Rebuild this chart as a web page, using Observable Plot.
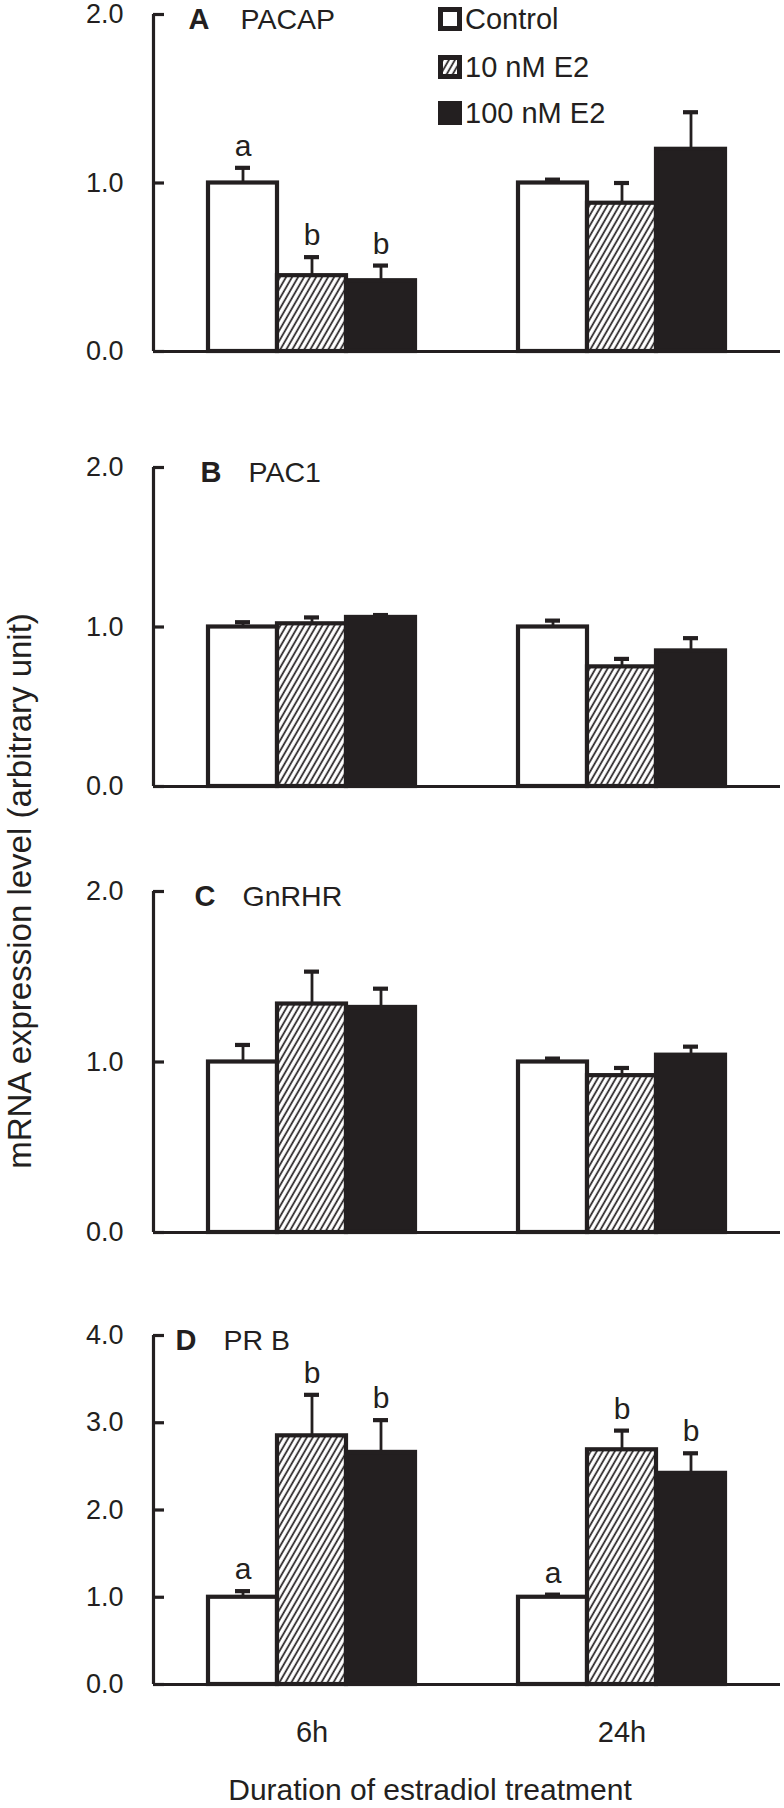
<!DOCTYPE html>
<html><head><meta charset="utf-8">
<script src="https://cdn.jsdelivr.net/npm/d3@7"></script>
<script src="https://cdn.jsdelivr.net/npm/@observablehq/plot@0.6"></script>
<style>
body{margin:0;background:#fff;}
#wrap{position:relative;width:784px;height:1808px;overflow:hidden;font-family:"Liberation Sans",Arial,Helvetica,sans-serif;color:#231f20;background:#fff;}
.layer{position:absolute;left:0;}
.legend-row{position:absolute;left:438px;display:flex;align-items:center;font-size:29px;line-height:30px;}
.legend-row svg{margin-right:3px;display:block;}
</style></head>
<body>
<div id="wrap">
<svg width="0" height="0" style="position:absolute">
  <defs>
    <pattern id="hatch" patternUnits="userSpaceOnUse" width="5.2" height="10" patternTransform="rotate(30)">
      <rect width="5.2" height="10" fill="white"></rect>
      <line x1="1.5" y1="-1" x2="1.5" y2="11" stroke="#231f20" stroke-width="1.7"></line>
    </pattern>
  </defs>
</svg>
</div>
<script>
// ---------- data ----------
const durations = ["6h", "24h"];
const treatments = ["Control", "10 nM E2", "100 nM E2"];
const genes = ["PACAP", "PAC1", "GnRHR", "PR B"];
const panelLetters = ["A", "B", "C", "D"];
// order: 6h Control, 6h 10 nM, 6h 100 nM, 24h Control, 24h 10 nM, 24h 100 nM
const pacapMean = [1.00, 0.45, 0.42, 1.00, 0.88, 1.20];
const pacapErr  = [0.09, 0.11, 0.09, 0.02, 0.12, 0.22];
const pacapSig  = ["a", "b", "b", "", "", ""];
const pac1Mean  = [1.00, 1.02, 1.06, 1.00, 0.75, 0.85];
const pac1Err   = [0.03, 0.04, 0.015, 0.04, 0.05, 0.08];
const pac1Sig   = ["", "", "", "", "", ""];
const gnrhrMean = [1.00, 1.34, 1.32, 1.00, 0.92, 1.04];
const gnrhrErr  = [0.10, 0.19, 0.11, 0.02, 0.045, 0.05];
const gnrhrSig  = ["", "", "", "", "", ""];
const prbMean   = [1.00, 2.85, 2.66, 1.00, 2.69, 2.42];
const prbErr    = [0.07, 0.47, 0.37, 0.03, 0.22, 0.23];
const prbSig    = ["a", "b", "b", "a", "b", "b"];
const yTicksSmall = [0, 1, 2];
const yTicksLarge = [0, 1, 2, 3, 4];
const xTitle = "Duration of estradiol treatment";
const yTitle = "mRNA expression level (arbitrary unit)";

// ---------- styles / layout ----------
const ink = "#231f20";
const treatmentFills = ["white", "url(#hatch)", ink];
const panelData = [
  {mean: pacapMean, err: pacapErr, sig: pacapSig, ticks: yTicksSmall},
  {mean: pac1Mean, err: pac1Err, sig: pac1Sig, ticks: yTicksSmall},
  {mean: gnrhrMean, err: gnrhrErr, sig: gnrhrSig, ticks: yTicksSmall},
  {mean: prbMean, err: prbErr, sig: prbSig, ticks: yTicksLarge}
];
const panelLayout = [
  {top: 0, plotH: 337, mb: 20, letterDx: 35, nameDx: 87},
  {top: 453, plotH: 319, mb: 20, letterDx: 47, nameDx: 95},
  {top: 877, plotH: 341, mb: 20, letterDx: 41, nameDx: 89},
  {top: 1321, plotH: 349, mb: 80, letterDx: 22, nameDx: 70}
];
const ML = 153, MR = 4, MT = 14;
const font = '"Liberation Sans", Arial, Helvetica, sans-serif';

const wrap = document.getElementById("wrap");

genes.forEach((gene, i) => {
  const pd = panelData[i], L = panelLayout[i];
  const rows = [];
  durations.forEach((dur, di) => treatments.forEach((tr, ti) => {
    const k = di * 3 + ti;
    rows.push({duration: dur, treatment: tr, value: pd.mean[k], err: pd.err[k], sig: pd.sig[k]});
  }));
  const ymax = d3.max(pd.ticks);
  const H = MT + L.plotH + L.mb;
  const isLast = i === genes.length - 1;

  const barMarks = [
    Plot.ruleX(rows, {fx: "duration", x: "treatment", y1: "value", y2: d => d.value + d.err,
      stroke: ink, strokeWidth: 2.8}),
    Plot.barY(rows, {fx: "duration", x: "treatment", y: "value", fill: "treatment",
      stroke: ink, strokeWidth: 4.2}),
    Plot.tickY(rows, {fx: "duration", x: "treatment", y: d => d.value + d.err,
      stroke: ink, strokeWidth: 4.2, insetLeft: 27, insetRight: 27}),
    Plot.text(rows.filter(d => d.sig), {fx: "duration", x: "treatment", y: d => d.value + d.err,
      text: "sig", lineAnchor: "bottom", dy: -12, fontSize: 30, fill: ink})
  ];
  if (isLast) {
    barMarks.push(Plot.axisFx({anchor: "bottom", tickSize: 0, tickPadding: 37, fontSize: 29,
      label: null, fill: ink}));
  }
  const bars = Plot.plot({
    width: 784, height: H,
    marginLeft: ML, marginRight: MR, marginTop: MT, marginBottom: L.mb,
    style: {fontFamily: font, color: ink, background: "transparent", overflow: "visible"},
    fx: Object.assign({domain: durations, paddingInner: 0.326, paddingOuter: 0.174, label: null},
      isLast ? {} : {axis: null}),
    x: {domain: treatments, padding: 0, axis: null},
    y: {domain: [0, ymax], axis: null},
    color: {type: "ordinal", domain: treatments, range: treatmentFills},
    marks: barMarks
  });
  bars.classList.add("layer");
  bars.style.top = L.top + "px";
  wrap.appendChild(bars);

  const axes = Plot.plot({
    width: 784, height: H,
    marginLeft: ML, marginRight: MR, marginTop: MT, marginBottom: L.mb,
    style: {fontFamily: font, color: ink, background: "transparent", overflow: "visible"},
    x: {domain: [0, 1], axis: null},
    y: {domain: [0, ymax], axis: null},
    marks: [
      Plot.axisY({ticks: pd.ticks, tickFormat: d3.format(".1f"), tickSize: 11, dx: 11,
        tickPadding: 30, strokeWidth: 3.2, fontSize: 27, label: null, stroke: ink, fill: ink}),
      Plot.ruleX([0], {stroke: ink, strokeWidth: 3.2}),
      Plot.ruleY([0], {stroke: ink, strokeWidth: 3.2}),
      Plot.text([panelLetters[i]], {text: d => d, frameAnchor: "top-left", textAnchor: "start",
        lineAnchor: "middle", dx: L.letterDx, dy: 5, fontSize: 29, fontWeight: "bold", fill: ink}),
      Plot.text([gene], {text: d => d, frameAnchor: "top-left", textAnchor: "start",
        lineAnchor: "middle", dx: L.nameDx, dy: 5, fontSize: 28.5, fill: ink})
    ]
  });
  axes.classList.add("layer");
  axes.style.top = L.top + "px";
  wrap.appendChild(axes);
});

// legend
const legendTops = [4, 52, 98];
treatments.forEach((tr, i) => {
  const row = document.createElement("div");
  row.className = "legend-row";
  row.style.top = legendTops[i] + "px";
  row.innerHTML = `<svg width="24" height="24"><rect x="2.5" y="2.5" width="19" height="19" fill="${treatmentFills[i]}" stroke="${ink}" stroke-width="5"></rect></svg><span>${tr}</span>`;
  wrap.appendChild(row);
});

// axis titles
const xt = document.createElement("div");
xt.textContent = xTitle;
Object.assign(xt.style, {position: "absolute", left: "0px", width: "860px", top: "1772px",
  textAlign: "center", fontSize: "30px", lineHeight: "36px"});
wrap.appendChild(xt);

const yt = document.createElement("div");
yt.textContent = yTitle;
Object.assign(yt.style, {position: "absolute", left: "-330px", width: "700px", top: "870px",
  height: "42px", lineHeight: "42px", textAlign: "center", fontSize: "33px",
  transform: "rotate(-90deg)", transformOrigin: "50% 50%", whiteSpace: "nowrap"});
wrap.appendChild(yt);
</script>
</body></html>
